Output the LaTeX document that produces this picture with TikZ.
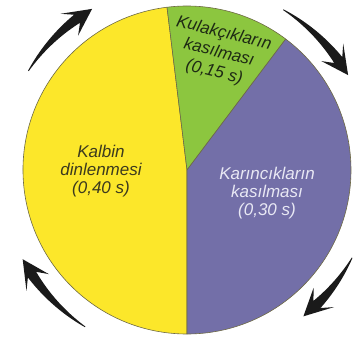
\documentclass[tikz,border=0pt]{standalone}
\usepackage{fontspec}
\setmainfont{Liberation Sans}
\definecolor{yel}{HTML}{FCE72A}
\definecolor{grn}{HTML}{8CC63F}
\definecolor{prp}{HTML}{736FA8}
\definecolor{sliceedge}{HTML}{6E6A45}
\definecolor{yeltext}{HTML}{3C3A1E}
\definecolor{grntext}{HTML}{1E2A14}
\definecolor{prptext}{HTML}{E8E8F4}
\definecolor{arrowc}{HTML}{1A1A1A}
\tikzset{
  slice/.style={draw=sliceedge, line width=0.6pt, line join=round},
  lbl/.style={font=\fontsize{17}{18}\selectfont\itshape, align=center, inner sep=0pt},
  arrowfill/.style={fill=arrowc}
}
\newcommand\cycarrow[3]{%
  \pgfmathsetmacro\bc{#2+0.35*(#3-#2)}%
  \fill[arrowfill] plot[domain=#1:\bc, samples=24] (\x:{187+0.4+4.6*(\x-(#1))/(\bc-(#1))})
    -- (#2:{187+14}) -- (#3:187) -- (#2:{187-14})
    -- plot[domain=\bc:#1, samples=24] (\x:{187-0.4-4.6*(\x-(#1))/(\bc-(#1))}) -- cycle;
}
\begin{document}
\begin{tikzpicture}[x=1pt,y=1pt]
\useasboundingbox (0,0) rectangle (354,341);
\begin{scope}[shift={(187,171)}]
  \coordinate (O) at (0,0);
  \filldraw[slice, fill=yel] (O) -- (97:164) arc[start angle=97, end angle=270, radius=164] -- cycle;
  \filldraw[slice, fill=grn] (O) -- (53:164) arc[start angle=53, end angle=97, radius=164] -- cycle;
  \filldraw[slice, fill=prp] (O) -- (-90:164) arc[start angle=-90, end angle=53, radius=164] -- cycle;
  \cycarrow{148}{129}{120.5}
  \cycarrow{59}{39}{30.5}
  \cycarrow{-28}{-43}{-51.5}
  \cycarrow{-123}{-143}{-151.5}
\end{scope}
\node[lbl, text=yeltext] (rest) at (101,170) {Kalbin\\dinlenmesi\\(0,40 s)};
\node[lbl, text=prptext] (ventricle) at (267,148) {Karıncıkların\\kasılması\\(0,30 s)};
\node[lbl, text=grntext, rotate=-14, font=\fontsize{17}{20}\selectfont\itshape] (atria) at (219,288) {Kulakçıkların\\kasılması\\(0,15 s)};
\end{tikzpicture}
\end{document}
